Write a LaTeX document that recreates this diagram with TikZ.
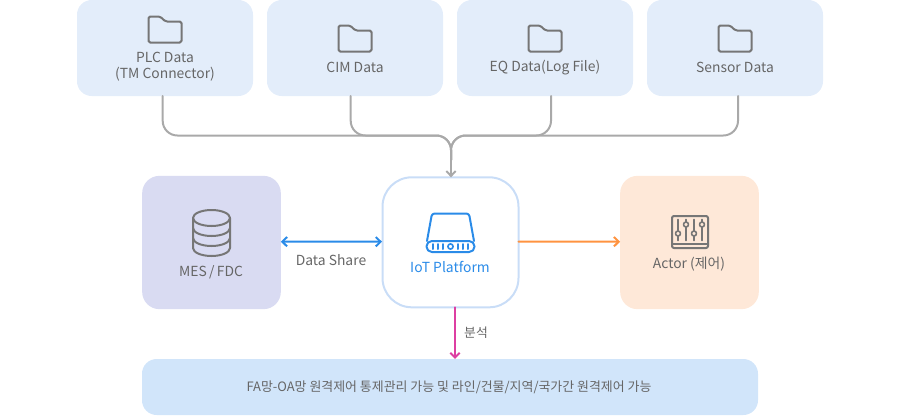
\documentclass[tikz,border=0pt]{standalone}
\usepackage{fontspec}
\setmainfont{Noto Sans CJK KR}
\usetikzlibrary{arrows.meta,calc}

\definecolor{topfill}{HTML}{E3EDFA}
\definecolor{mesfill}{HTML}{D9DBF2}
\definecolor{iotline}{HTML}{C9DDF7}
\definecolor{actorfill}{HTML}{FEE8D8}
\definecolor{bottomfill}{HTML}{D1E5FA}
\definecolor{icongray}{HTML}{767676}
\definecolor{textgray}{HTML}{666666}
\definecolor{wiregray}{HTML}{A9A9A9}
\definecolor{shareblue}{HTML}{2A8BE8}
\definecolor{actororange}{HTML}{FF9340}
\definecolor{pinkline}{HTML}{DD3FA2}

\tikzset{
	card/.style={inner sep=0pt,outer sep=0pt,rounded corners=11pt},
	topcard/.style={card,fill=topfill,minimum width=132pt,minimum height=72pt},
	midcard/.style={card,minimum width=104pt,minimum height=100pt,rounded corners=13pt},
	caption/.style={inner sep=0pt,text=textgray,font=\fontsize{10.4}{12}\selectfont,align=center},
	icon/.style={draw=icongray,line width=1.5pt,line join=round},
	wire/.style={draw=wiregray,line width=1.5pt,rounded corners=11pt},
	folder/.pic={
		\draw[icon,rounded corners=1.2pt] (-16.5,13) -- (-16.5,-13) -- (-5,-13) -- (0.5,-8) -- (16.5,-8) -- (16.5,13) -- cycle;
	}
}

\begin{document}
\begin{tikzpicture}[x=0.75pt,y=-0.75pt,cap=round,>={Straight Barb[length=3.6pt,width=7pt]}]
	\useasboundingbox (0,0) rectangle (900,415);

	% the four data sources on top
	\foreach \x/\name/\iy/\ty/\txt in {
		165/plc/29.5/66.5/{PLC Data\\(TM Connector)},
		355/cim/38.5/67.3/{CIM Data},
		545/eq/38.5/67.3/{EQ Data(Log File)},
		735/sensor/38.5/67.3/{Sensor Data}}
	{
		\node[topcard] (\name) at (\x,48) {};
		\pic at (\x,\iy) {folder};
		\node[caption] (\name text) at (\x,\ty) {\txt};
	}

	% the three boxes in the middle
	\node[midcard,fill=mesfill] (mes) at (211.5,242.5) {};
	\node[midcard,draw=iotline,line width=1.5pt,minimum width=102pt,minimum height=97.5pt,rounded corners=22pt] (iot) at (450.5,242.3) {};
	\node[midcard,fill=actorfill] (actor) at (689.5,242.5) {};
	\node[card,fill=bottomfill,minimum width=462pt,minimum height=42pt] (result) at (450,387) {};

	% the wires from the sources into one arrow
	\coordinate (hub) at (451,135.5);
	\foreach \name/\dx in {plc/-2.3,cim/-4.3,eq/6,sensor/3}
		\draw[wire] ($(\name.south)+(\dx,0)$) |- (hub) -- (451,160);
	\draw[wire,->] (451,155) -- (hub |- iot.north);

	% the arrows around the platform
	\draw[<->,shareblue,line width=1.5pt] ($(mes.east)+(0,-0.8)$) -- ($(iot.west)+(-0.5,-0.6)$);
	\draw[->,actororange,line width=1.5pt] ($(iot.east)+(0,-0.6)$) -- ($(actor.west)+(0,-0.8)$);
	\draw[->,pinkline,line width=1.5pt] ($(iot.south)+(4.5,0)$) -- ($(result.north)+(5,0)$);

	% database icon
	\begin{scope}[shift={(211.5,218)}]
		\draw[icon] (0,0) ellipse [x radius=18.5,y radius=8];
		\draw[icon] (-18.5,0) -- (-18.5,30) arc [start angle=180,end angle=0,x radius=18.5,y radius=8] -- (18.5,0);
		\draw[icon] (-18.5,10) arc [start angle=180,end angle=0,x radius=18.5,y radius=8];
		\draw[icon] (-18.5,20) arc [start angle=180,end angle=0,x radius=18.5,y radius=8];
	\end{scope}

	% device icon
	\draw[icon,shareblue,rounded corners=2pt] (427,241) -- (432,213.5) -- (469,213.5) -- (474,241);
	\draw[icon,shareblue,rounded corners=4pt] (426.5,241) rectangle (474.5,252);
	\foreach \x in {433,438,443,458,463,468}
		\draw[shareblue,line width=1.5pt] (\x,244) -- (\x,249);
	\draw[shareblue,line width=1.2pt] (450.5,246.5) circle (2.6);

	% slider icon
	\draw[icon,rounded corners=1.5pt] (672,216) rectangle (708,248);
	\draw[icon] (672,244) -- (708,244);
	\foreach \x/\y in {678/233.5,686/224.5,694/233.5,702/224.5}
	{
		\draw[icon,line width=1.3pt] (\x,219.5) -- (\x,240.5);
		\filldraw[icon,fill=actorfill,line width=1.2pt] (\x,\y) circle (2.5);
	}

	% the remaining texts
	\node[caption] (mestext) at (211,272) {MES\,/\,FDC};
	\node[caption] (sharetext) at (331,260) {Data Share};
	\node[caption,text=shareblue] (iottext) at (450,267) {IoT Platform};
	\node[caption] (actortext) at (689,264) {Actor (제어)};
	\node[caption,font=\fontsize{9.6}{12}\selectfont] (analysistext) at (476,332.5) {분석};
	\node[caption,font=\fontsize{9.7}{12}\selectfont] (resulttext) at (449,387.5) {FA망-OA망 원격제어 통제관리 가능 및 라인/건물/지역/국가간 원격제어 가능};
\end{tikzpicture}
\end{document}
